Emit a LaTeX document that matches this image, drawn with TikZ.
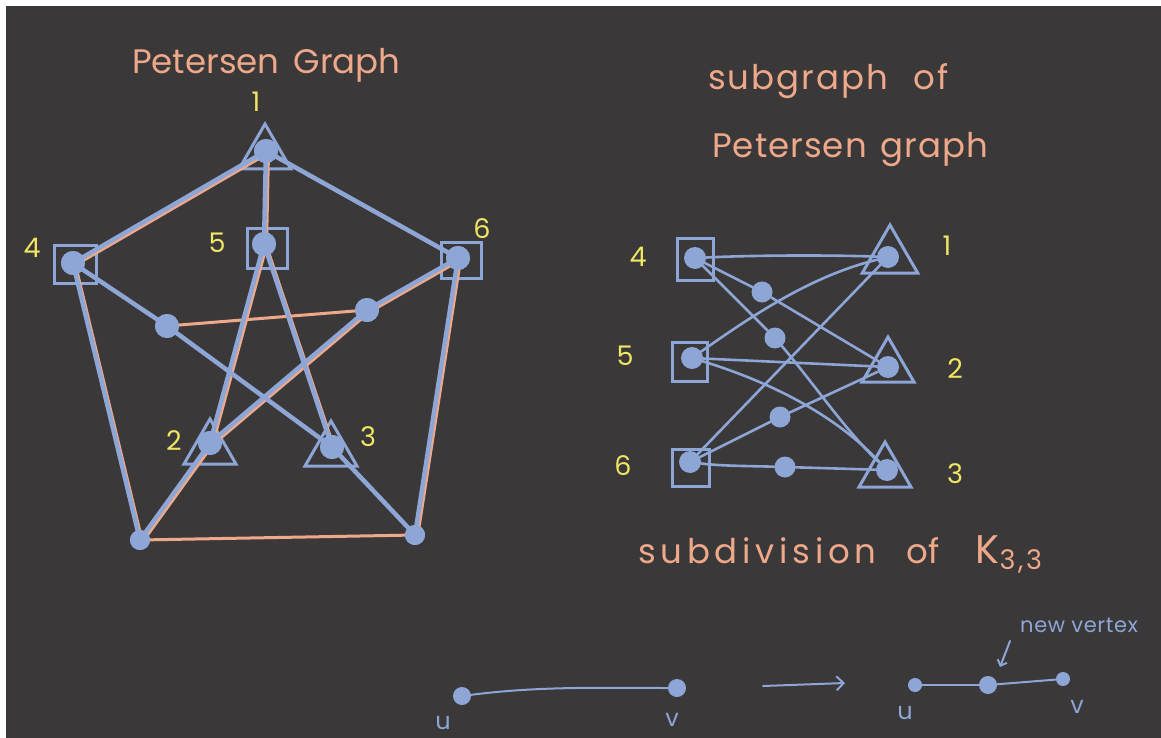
\documentclass[tikz,border=0pt]{standalone}
\usepackage{fontspec}
\setmainfont{Poppins}
\usetikzlibrary{shapes.geometric,arrows.meta}
\definecolor{bg}{RGB}{58,56,57}
\definecolor{eblue}{RGB}{141,166,214}
\definecolor{eorange}{RGB}{238,168,138}
\definecolor{lyellow}{RGB}{240,230,100}
\begin{document}
\begin{tikzpicture}[x=1pt,y=-1pt,
  vdot/.style={circle,fill=eblue,inner sep=0pt,minimum size=#1},
  vdot/.default=24,
  sq/.style={draw=eblue,line width=3pt,rectangle,inner sep=0pt},
  tri/.style={draw=eblue,line width=3pt,regular polygon,regular polygon sides=3,inner sep=0pt,minimum size=#1},
  bedge/.style={draw=eblue,line width=4.5pt,line cap=round},
  oedge/.style={draw=eorange,line width=3pt,line cap=round},
  kedge/.style={draw=eblue,line width=2.6pt,line cap=round},
  num/.style={text=lyellow,font=\fontsize{27}{29}\selectfont},
  ttl/.style={text=eorange,font=\fontsize{34}{36}\selectfont,inner sep=0pt},
  blab/.style={text=eblue,font=\fontsize{24}{26}\selectfont,inner sep=0pt},
  nvlab/.style={text=eblue,font=\fontsize{21}{23}\selectfont\addfontfeature{LetterSpace=3},inner sep=0pt},
]
\useasboundingbox (0,0) rectangle (1161,738);
\fill[white] (0,0) rectangle (1161,738);
\fill[bg] (6,6) rectangle (1161,738);

% ---------- Petersen graph ----------
\node[ttl,anchor=base west] (pt) at (132,74) {Petersen\hspace{14pt}Graph};

\node[tri=60] (t1) at (265,154) {};
\node[tri=60] (t2) at (210,449) {};
\node[tri=60] (t3) at (331,451) {};
\node[sq,minimum width=42,minimum height=38] (s4) at (75,264) {};
\node[sq,minimum width=40,minimum height=40] (s5) at (267,248) {};
\node[sq,minimum width=40,minimum height=36] (s6) at (461,260) {};

\node[vdot] (p1) at (266,151) {};
\node[vdot] (p4) at (73,263) {};
\node[vdot] (p5) at (264,244) {};
\node[vdot] (p6) at (458,258) {};
\node[vdot] (pil) at (167,326) {};
\node[vdot] (pir) at (367,310) {};
\node[vdot] (p2) at (210,443) {};
\node[vdot] (p3) at (332,447) {};
\node[vdot=20] (pbl) at (140,540) {};
\node[vdot=20] (pbr) at (415,535) {};

% orange underlay
\foreach \a/\b in {p1/p4,p1/p6,p1/p5,p4/pbl,p4/pil,p6/pir,p6/pbr,pbl/p2,pbr/p3,p5/p2,p5/p3,pil/p3,pir/p2}
  \draw[oedge] ([shift={(2.5,2)}]\a.center) -- ([shift={(2.5,2)}]\b.center);
\draw[oedge] (pil.center) -- (pir.center);
\draw[oedge] (pbl.center) -- (pbr.center);
% blue subgraph
\foreach \a/\b in {p1/p4,p1/p6,p1/p5,p4/pbl,p4/pil,p6/pir,p6/pbr,pbl/p2,pbr/p3,p5/p2,p5/p3,pil/p3,pir/p2}
  \draw[bedge] (\a.center) -- (\b.center);

\foreach \n in {p1,p4,p5,p6,pil,pir,p2,p3}
  \fill[eblue] (\n) circle (12);
\fill[eblue] (pbl) circle (10);
\fill[eblue] (pbr) circle (10);

\node[num] (l1) at (256,102) {1};
\node[num] (l4) at (32,248) {4};
\node[num] (l5) at (217,243) {5};
\node[num] (l6) at (482,229) {6};
\node[num] (l2) at (174,441) {2};
\node[num] (l3) at (368,437) {3};

% ---------- subgraph (K33 subdivision) ----------
\node[ttl,anchor=base west] (st1) at (708,90) {\addfontfeature{LetterSpace=6}subgraph\hspace{14pt} of};
\node[ttl,anchor=base west] (st2) at (712,158) {\addfontfeature{LetterSpace=3}Petersen\hspace{4pt} graph};

\node[sq,minimum width=36,minimum height=42] (r4) at (695,259) {};
\node[sq,minimum width=35,minimum height=39] (r5) at (690,362) {};
\node[sq,minimum width=37,minimum height=37] (r6) at (691,468) {};
\node[tri=64] (q1) at (890,257) {};
\node[tri=60] (q2) at (888,367) {};
\node[tri=60] (q3) at (885,472) {};

\node[vdot=22] (k4) at (695,258) {};
\node[vdot=22] (k5) at (692,358) {};
\node[vdot=22] (k6) at (690,462) {};
\node[vdot=22] (k1) at (888,257) {};
\node[vdot=22] (k2) at (888,367) {};
\node[vdot=22] (k3) at (887,470) {};
\node[vdot=21] (sa) at (762,292) {};
\node[vdot=21] (sb) at (775,338) {};
\node[vdot=21] (sc) at (780,417) {};
\node[vdot=21] (sd) at (785,467) {};

\draw[kedge] (k4) .. controls (760,255) and (830,255) .. (k1);
\draw[kedge] (k4) -- (sa);
\draw[kedge] (sa) -- (k2);
\draw[kedge] (k4) -- (sb);
\draw[kedge] (sb) .. controls (815,385) and (845,430) .. (k3);
\draw[kedge] (k5) .. controls (760,310) and (815,275) .. (k1);
\draw[kedge] (k5) -- (k2);
\draw[kedge] (k5) .. controls (780,385) and (840,420) .. (k3);
\draw[kedge] (k6) -- (k1);
\draw[kedge] (k6) -- (sc);
\draw[kedge] (sc) -- (k2);
\draw[kedge] (k6) .. controls (720,466) and (750,466) .. (sd);
\draw[kedge] (sd) -- (k3);

\node[num] (m4) at (638,257) {4};
\node[num] (m5) at (625,356) {5};
\node[num] (m6) at (623,466) {6};
\node[num] (m1) at (947,246) {1};
\node[num] (m2) at (955,369) {2};
\node[num] (m3) at (955,474) {3};

\node[ttl,anchor=base west] (sub) at (638,563) {{\addfontfeature{LetterSpace=14}subdivision}\hspace{30pt}of\hspace{36pt}{\fontsize{40}{42}\selectfont K}\raisebox{-0.35ex}{\fontsize{27}{29}\selectfont\addfontfeature{LetterSpace=10}3,3}};

% ---------- bottom: edge subdivision ----------
\node[vdot=18] (u1) at (462,696) {};
\node[vdot=18] (v1) at (677,688) {};
\draw[kedge,line width=2pt] (u1) .. controls (540,686) and (600,688) .. (v1);
\node[blab] (ul1) at (443,723) {u};
\node[blab] (vl1) at (672,720) {v};

\coordinate (ar1) at (763,686);
\coordinate (ar2) at (845,683);
\draw[kedge,line width=2pt,-{Straight Barb[length=7pt,width=14pt]}] (ar1) -- (ar2);

\node[vdot=14] (u2) at (915,685) {};
\node[vdot=18] (n2) at (988,685) {};
\node[vdot=14] (v2) at (1063,679) {};
\draw[kedge,line width=2pt] (u2) -- (n2);
\draw[kedge,line width=2pt] (n2) -- (v2);
\node[blab] (ul2) at (905,713) {u};
\node[blab] (vl2) at (1077,707) {v};

\node[nvlab,anchor=base west] (nv) at (1020,632) {new vertex};
\coordinate (nva) at (1010,641);
\draw[kedge,line width=2pt,-{Straight Barb[length=5pt,width=10pt]}] (nva) -- ([shift={(12,-18)}]n2.center);
\end{tikzpicture}
\end{document}
